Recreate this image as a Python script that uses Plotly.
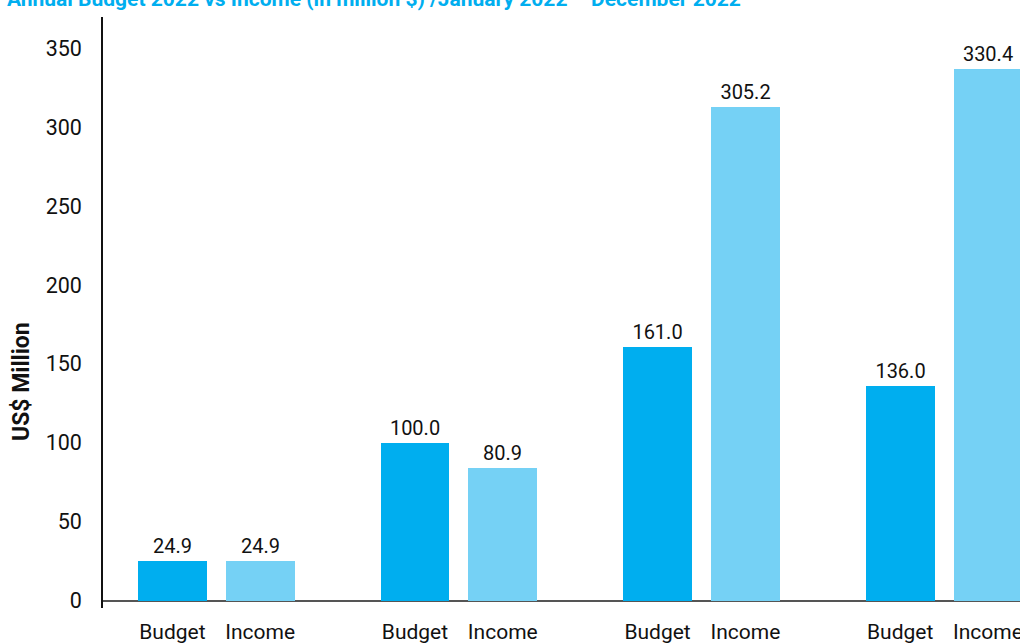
import plotly.graph_objects as go

title_text = "Annual Budget 2022 vs Income (in million $) /January 2022 – December 2022"
groups = ["G1", "G2", "G3", "G4"]
series = ["Budget", "Income"]
budget_values = [24.9, 100.0, 161.0, 136.0]
budget_labels = ["24.9", "100.0", "161.0", "136.0"]
income_values = [25.0, 84.1, 313.0, 337.0]
income_labels = ["24.9", "80.9", "305.2", "330.4"]
colors = {"Budget": "#00AEEF", "Income": "#75D1F5"}

W, H = 1020, 644
L, R, T, B = 103, 0, 17, 36
PW, PH = W - L - R, H - T - B
FONT = "Roboto"

# x positions: group index +/- offset (layout only)
offset = 0.181
xs, ys, texts, cols, ticktext = [], [], [], [], []
for i in range(len(groups)):
    for s, vals, labs, sgn in (("Budget", budget_values, budget_labels, -1),
                               ("Income", income_values, income_labels, 1)):
        xs.append(i + sgn * offset)
        ys.append(vals[i])
        texts.append(labs[i])
        cols.append(colors[s])
        ticktext.append(s)

fig = go.Figure()
fig.add_trace(go.Bar(
    x=xs, y=ys, width=0.284, marker=dict(color=cols, line=dict(width=0)),
    text=texts, textposition="outside", cliponaxis=False,
    textfont=dict(family=FONT, size=20, color="#111111"),
    showlegend=False, hoverinfo="skip",
))

fig.update_layout(
    width=W, height=H,
    margin=dict(l=L, r=R, t=T, b=B, pad=0),
    plot_bgcolor="white", paper_bgcolor="white",
    font=dict(family=FONT, size=20, color="#111111"),
    bargap=0,
)
fig.update_xaxes(
    range=[-0.467, 3.313], tickmode="array", tickvals=xs, ticktext=ticktext,
    showgrid=False, zeroline=False, showline=False, ticks="", automargin=False,
    ticklabeloverflow="allow",
    ticklabelstandoff=9, tickfont=dict(family=FONT, size=21, color="#111111"),
)
fig.update_yaxes(
    range=[-4.6, 369.8], tickmode="array", tickvals=[0, 50, 100, 150, 200, 250, 300, 350],
    showgrid=False, zeroline=True, zerolinecolor="#555555", zerolinewidth=2,
    showline=True, linecolor="#111111", linewidth=1.5, ticks="", automargin=False,
    ticklabelstandoff=15, tickfont=dict(family=FONT, size=21.5, color="#111111"),
)
fig.add_annotation(
    text="<b>" + title_text + "</b>", xref="paper", yref="paper",
    x=(5 - L) / PW, y=1 + (T + 1) / PH, xanchor="left", yanchor="middle",
    showarrow=False, font=dict(family=FONT, size=21, color="#00AEEF"),
)
fig.add_annotation(
    text="<b>US$ Million</b>", textangle=-90, xref="paper", yref="paper",
    x=(21 - L) / PW, y=(H - B - 382) / PH, xanchor="center", yanchor="middle",
    showarrow=False, font=dict(family=FONT, size=23, color="#111111"),
)
fig.write_html(
    "out.html",
    config={"displayModeBar": False},
    post_script="document.body.style.margin='0';document.body.style.overflow='hidden';",
)
